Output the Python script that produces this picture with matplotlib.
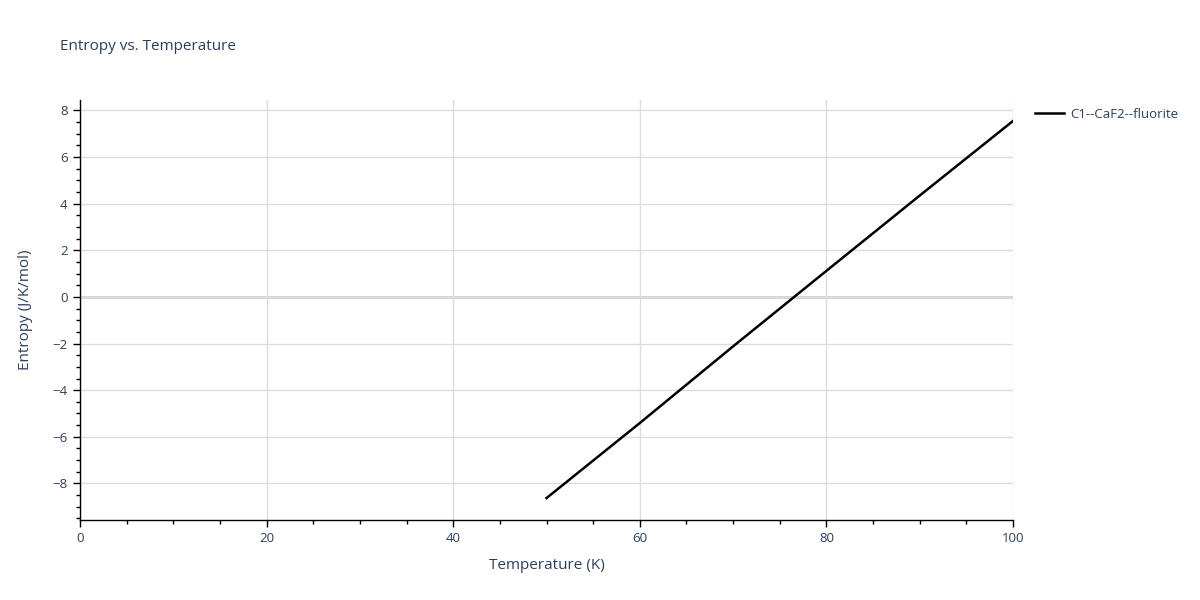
import matplotlib
matplotlib.use("Agg")
import matplotlib.pyplot as plt
from matplotlib.ticker import MultipleLocator

# data
temperature = [50, 60, 70, 80, 90, 100]
entropy = [-8.63, -5.41, -2.12, 1.12, 4.35, 7.55]
series_name = "C1--CaF2--fluorite"

text_color = "#2a3f5f"
grid_color = "#dcdcdc"

plt.rcParams['font.family'] = ['Open Sans', 'DejaVu Sans']

fig = plt.figure(figsize=(12, 6), dpi=100)
ax = fig.add_axes([80 / 1200, 80 / 600, 933 / 1200, 420 / 600])

ax.plot(temperature, entropy, color="black", lw=1.8, label=series_name)

ax.set_xlim(0, 100)
ax.set_ylim(-9.57, 8.45)
ax.xaxis.set_major_locator(MultipleLocator(20))
ax.xaxis.set_minor_locator(MultipleLocator(5))
ax.yaxis.set_major_locator(MultipleLocator(2))
ax.yaxis.set_minor_locator(MultipleLocator(0.5))

ax.grid(True, which="major", color=grid_color, lw=1)
ax.axhline(0, color="#cfcfcf", lw=2, zorder=0.5)
ax.set_axisbelow(True)

for side in ("top", "right"):
    ax.spines[side].set_visible(False)
for side in ("left", "bottom"):
    ax.spines[side].set_color("black")
    ax.spines[side].set_linewidth(1)

ax.tick_params(which="major", direction="out", length=5, width=1, color="black",
               labelcolor=text_color, labelsize=9.5, pad=4)
ax.tick_params(which="minor", direction="out", length=3, width=1, color="black")
ax.yaxis.set_major_formatter(plt.FuncFormatter(lambda v, p: f"{v:g}".replace("-", "\u2212")))

ax.set_xlabel("Temperature (K)", color=text_color, fontsize=11, labelpad=9)
ax.set_ylabel("Entropy (J/K/mol)", color=text_color, fontsize=11, labelpad=14)

fig.text(60 / 1200, 1 - 46 / 600, "Entropy vs. Temperature", color=text_color,
         fontsize=11, va="center", ha="left")

leg = ax.legend(loc="upper left", bbox_to_anchor=(1.015, 1.0), frameon=False,
                fontsize=9.5, handlelength=2.2, handletextpad=0.5, borderaxespad=0.2)
for t in leg.get_texts():
    t.set_color(text_color)

fig.savefig("out.png", dpi=100)
